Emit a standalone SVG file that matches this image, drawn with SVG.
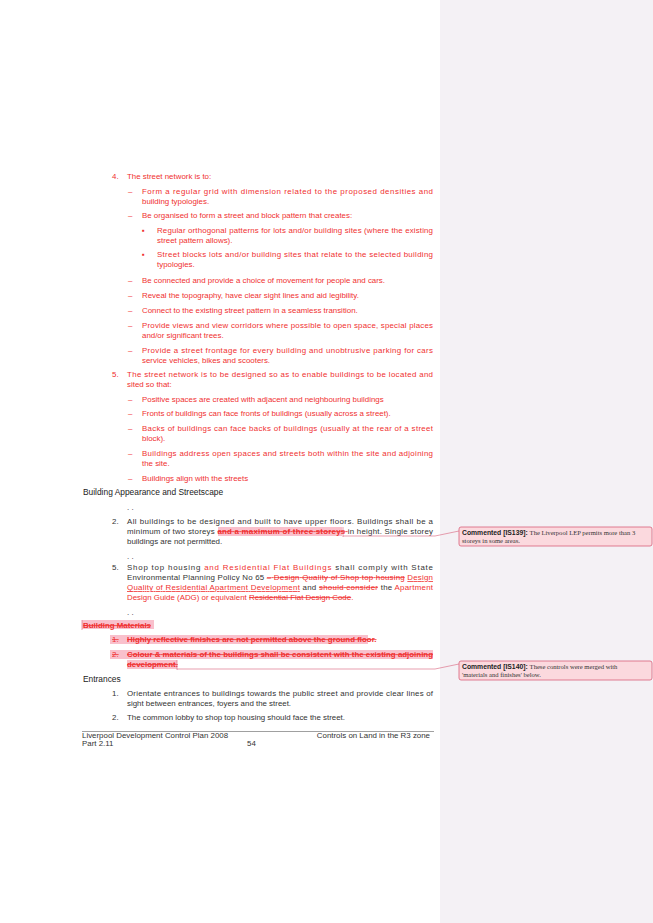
<svg xmlns="http://www.w3.org/2000/svg" width="653" height="923" viewBox="0 0 653 923">
<style>
text{font-family:"Liberation Sans",Arial,sans-serif;font-size:7.9px;fill:#333}
.r{fill:#f03030}
.b{font-weight:bold}
.h{font-size:8.4px;fill:#222}
.st{text-decoration:line-through}
.u{text-decoration:underline}
.c{font-family:"Liberation Serif",serif;font-size:6.6px;fill:#333}
.cb{font-family:"Liberation Sans",sans-serif;font-weight:bold;font-size:6.8px;fill:#222}
.box{fill:#fbd9de;stroke:#d9607a;stroke-width:0.8}
.ln{stroke:#d9607a;stroke-width:0.6;fill:none}
.hl{fill:#f9c0cc}
</style>
<rect width="653" height="923" fill="#fff"/>
<rect x="440" y="0" width="213" height="923" fill="#f4f1f5"/>
<g id="body">
<text class="r" x="112" y="179">4.</text><text class="r" x="127" y="179">The street network is to:</text>
<text class="r" x="128" y="194">–</text><text class="r" x="142" y="194" textLength="291" lengthAdjust="spacing">Form a regular grid with dimension related to the proposed densities and</text>
<text class="r" x="142" y="204">building typologies.</text>
<text class="r" x="128" y="218">–</text><text class="r" x="142" y="218">Be organised to form  a street and block pattern that creates:</text>
<text class="r" x="142" y="233">▪</text><text class="r" x="157" y="233" textLength="276" lengthAdjust="spacing">Regular orthogonal patterns for lots and/or building sites (where the existing</text>
<text class="r" x="157" y="243">street pattern allows).</text>
<text class="r" x="142" y="257">▪</text><text class="r" x="157" y="257" textLength="276" lengthAdjust="spacing">Street blocks  lots and/or building sites that relate to the selected building</text>
<text class="r" x="157" y="267">typologies.</text>
<text class="r" x="128" y="283">–</text><text class="r" x="142" y="283">Be connected and provide a choice of movement for people and cars.</text>
<text class="r" x="128" y="298">–</text><text class="r" x="142" y="298">Reveal the topography, have clear sight lines and aid legibility.</text>
<text class="r" x="128" y="313">–</text><text class="r" x="142" y="313">Connect to the existing street pattern in a seamless transition.</text>
<text class="r" x="128" y="328">–</text><text class="r" x="142" y="328" textLength="291" lengthAdjust="spacing">Provide views and view corridors where possible to open space, special places</text>
<text class="r" x="142" y="338">and/or significant trees.</text>
<text class="r" x="128" y="353">–</text><text class="r" x="142" y="353" textLength="291" lengthAdjust="spacing">Provide a street frontage for every building and unobtrusive parking for cars</text>
<text class="r" x="142" y="363">service vehicles, bikes and scooters.</text>
<text class="r" x="112" y="377">5.</text><text class="r" x="127" y="377" textLength="306" lengthAdjust="spacing">The street network is to be designed so as to enable buildings to be located and</text>
<text class="r" x="127" y="387">sited so that:</text>
<text class="r" x="128" y="402">–</text><text class="r" x="142" y="402">Positive spaces are created with adjacent and neighbouring buildings</text>
<text class="r" x="128" y="416">–</text><text class="r" x="142" y="416">Fronts of buildings can face fronts of buildings (usually across a street).</text>
<text class="r" x="128" y="431">–</text><text class="r" x="142" y="431" textLength="291" lengthAdjust="spacing">Backs of buildings can face backs of buildings (usually at the rear of a street</text>
<text class="r" x="142" y="441">block).</text>
<text class="r" x="128" y="456">–</text><text class="r" x="142" y="456" textLength="291" lengthAdjust="spacing">Buildings address open spaces and streets both within the site and adjoining</text>
<text class="r" x="142" y="466">the site.</text>
<text class="r" x="128" y="481">–</text><text class="r" x="142" y="481">Buildings align with the streets</text>

<text class="h" x="83" y="495">Building Appearance and Streetscape</text>
<text x="127" y="510">. .</text>
<text x="112" y="524">2.</text><text x="127" y="524" textLength="306" lengthAdjust="spacing">All buildings to be designed and built to have upper floors. Buildings shall be a</text>
<rect class="hl" x="218" y="527" width="124" height="9"/>
<text x="127" y="534" textLength="306" lengthAdjust="spacing">minimum of two storeys <tspan class="r b st">and a maximum of three storeys </tspan>in height.  Single storey</text>
<line class="ln" x1="343" y1="527" x2="343" y2="537"/>
<text x="127" y="544">buildings are not permitted.</text>
<text x="127" y="559">. .</text>
<text x="112" y="570">5.</text><text x="127" y="570" textLength="306" lengthAdjust="spacing">Shop top housing <tspan class="r">and Residential Flat Buildings</tspan> shall comply with State</text>
<text x="127" y="580" textLength="306" lengthAdjust="spacing">Environmental Planning Policy No 65 <tspan class="r st">– Design Quality of Shop top housing</tspan> <tspan class="r u">Design</tspan></text>
<text x="127" y="590" textLength="306" lengthAdjust="spacing"><tspan class="r u">Quality of Residential Apartment Development</tspan> and <tspan class="r st">should consider</tspan> the <tspan class="r">Apartment</tspan></text>
<text class="r" x="127" y="600">Design Guide (ADG) or equivalent <tspan class="st">Residential Flat Design Code</tspan>.</text>
<text x="127" y="615">. .</text>

<rect class="hl" x="82" y="620" width="72" height="9"/>
<line class="ln" x1="82" y1="620" x2="82" y2="630"/>
<text class="r b st" x="83" y="628">Building Materials</text>
<rect class="hl" x="110" y="635" width="258" height="9"/>
<text class="r st" x="112" y="642">1.<tspan class="b" x="127">Highly reflective finishes are not permitted above the ground floor.</tspan></text>
<rect class="hl" x="110" y="650" width="323" height="9"/>
<rect class="hl" x="127" y="660" width="50" height="9"/>
<text class="r st" x="112" y="657">2.</text><text class="r b st" x="127" y="657" textLength="306" lengthAdjust="spacing">Colour &amp; materials of the buildings shall be consistent with the existing adjoining</text>
<text class="r b st" x="127" y="667">development.</text>
<line class="ln" x1="177" y1="660" x2="177" y2="670"/>

<text class="h" x="83" y="682">Entrances</text>
<text x="112" y="696">1.</text><text x="127" y="696" textLength="306" lengthAdjust="spacing">Orientate entrances to buildings towards the public street and provide clear lines of</text>
<text x="127" y="706">sight between entrances, foyers and the street.</text>
<text x="112" y="720">2.</text><text x="127" y="720">The common lobby to shop top housing should face the street.</text>
</g>
<g id="footer">
<line x1="82" y1="731.5" x2="434" y2="731.5" stroke="#888" stroke-width="0.8"/>
<text x="82" y="738" font-size="6.8">Liverpool Development Control Plan 2008</text>
<text x="82" y="746" font-size="6.8">Part 2.11</text>
<text x="247" y="746" font-size="6.8">54</text>
<text x="430" y="738" font-size="6.8" text-anchor="end">Controls on Land in the R3 zone</text>
</g>
<g id="connectors">
<polyline class="ln" points="343,536 435,536 459,531"/>
<polyline class="ln" points="177,669 435,669 459,664"/>
</g>
<g id="comment1">
<rect class="box" x="459" y="527" width="193" height="19" rx="2"/>
<text x="462" y="535"><tspan class="cb">Commented [IS139]: </tspan><tspan class="c">The Liverpool LEP permits more than 3</tspan></text>
<text class="c" x="462" y="543">storeys in some areas.</text>
</g>
<g id="comment2">
<rect class="box" x="459" y="661" width="193" height="19" rx="2"/>
<text x="462" y="669"><tspan class="cb">Commented [IS140]: </tspan><tspan class="c">These controls were merged with</tspan></text>
<text class="c" x="462" y="677">'materials and finishes' below.</text>
</g>
</svg>
